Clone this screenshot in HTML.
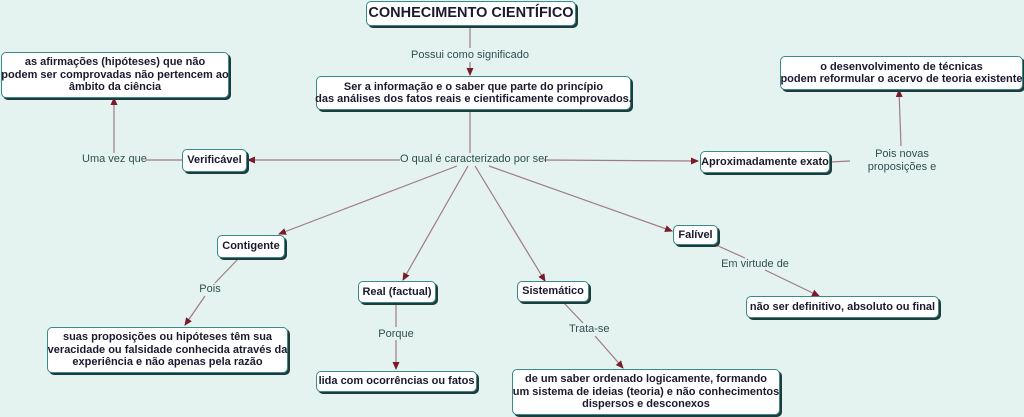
<!DOCTYPE html>
<html><head><meta charset="utf-8"><style>
body{margin:0;width:1024px;height:417px;background:#e4f3f0;position:relative;overflow:hidden;font-family:"Liberation Sans",Arial,sans-serif;}
.n{position:absolute;box-sizing:border-box;background:#fff;border:1.5px solid #3a8a8a;border-radius:5px;box-shadow:2px 2px 0 #1f3b3b;font-weight:bold;color:#1a1a2e;font-size:11px;line-height:12.5px;text-align:center;display:flex;align-items:center;justify-content:center;white-space:nowrap;}
.l{position:absolute;font-size:11px;color:#2f4f4f;text-align:center;line-height:12.5px;white-space:nowrap;}
svg{position:absolute;left:0;top:0}
</style></head><body>
<svg width="1024" height="417">
<defs><marker id="a" markerWidth="8" markerHeight="8" refX="7" refY="4" orient="auto" markerUnits="userSpaceOnUse"><path d="M0,0.5 L8,4 L0,7.5 Z" fill="#7a1a2a"/></marker></defs>
<g stroke="#a07a84" stroke-width="1.2" fill="none">
<line x1="470" y1="27" x2="470" y2="48"/>
<line x1="470" y1="62" x2="470" y2="75" marker-end="url(#a)"/>
<line x1="470" y1="110" x2="470" y2="153"/>
<line x1="400" y1="160" x2="248" y2="160" marker-end="url(#a)"/>
<line x1="544" y1="160" x2="698" y2="161" marker-end="url(#a)"/>
<line x1="457" y1="166" x2="279" y2="234" marker-end="url(#a)"/>
<line x1="468" y1="166" x2="403" y2="280" marker-end="url(#a)"/>
<line x1="475" y1="166" x2="545" y2="281" marker-end="url(#a)"/>
<line x1="489" y1="166" x2="672" y2="231" marker-end="url(#a)"/>
<line x1="182" y1="160" x2="146" y2="160"/>
<line x1="114" y1="153" x2="114" y2="98" marker-end="url(#a)"/>
<line x1="830" y1="162" x2="850" y2="161"/>
<line x1="901" y1="146" x2="899" y2="90" marker-end="url(#a)"/>
<line x1="239" y1="258" x2="215" y2="283"/>
<line x1="205" y1="296" x2="185" y2="325" marker-end="url(#a)"/>
<line x1="396" y1="303" x2="396" y2="327"/>
<line x1="396" y1="340" x2="396" y2="369" marker-end="url(#a)"/>
<line x1="563" y1="302" x2="583" y2="323"/>
<line x1="595" y1="336" x2="623" y2="368" marker-end="url(#a)"/>
<line x1="716" y1="245" x2="745" y2="258"/>
<line x1="765" y1="270" x2="819" y2="296" marker-end="url(#a)"/>
</g></svg>
<div class="n" style="left:366px;top:1px;width:210px;height:25px;font-size:14.5px;">CONHECIMENTO CIENTÍFICO</div>
<div class="l" style="left:405px;top:49px;width:130px;">Possui como significado</div>
<div class="n" style="left:316px;top:76px;width:315px;height:34px;">Ser a informação e o saber que parte do princípio<br>das análises dos fatos reais e cientificamente comprovados.</div>
<div class="n" style="left:1px;top:52px;width:228px;height:46px;">as afirmações (hipóteses) que não<br>podem ser comprovadas não pertencem ao<br>âmbito da ciência</div>
<div class="n" style="left:780px;top:56px;width:243px;height:34px;">o desenvolvimento de técnicas<br>podem reformular o acervo de teoria existente</div>
<div class="l" style="left:82px;top:153px;width:64px;">Uma vez que</div>
<div class="n" style="left:182px;top:149px;width:65px;height:23px;">Verificável</div>
<div class="l" style="left:400px;top:153px;width:144px;">O qual é caracterizado por ser</div>
<div class="n" style="left:700px;top:151px;width:130px;height:22px;">Aproximadamente exato</div>
<div class="l" style="left:850px;top:148px;width:104px;">Pois novas<br>proposições e</div>
<div class="n" style="left:217px;top:235px;width:68px;height:23px;">Contigente</div>
<div class="l" style="left:195px;top:283px;width:30px;">Pois</div>
<div class="n" style="left:47px;top:327px;width:241px;height:46px;">suas proposições ou hipóteses têm sua<br>veracidade ou falsidade conhecida através da<br>experiência e não apenas pela razão</div>
<div class="n" style="left:358px;top:281px;width:78px;height:22px;">Real (factual)</div>
<div class="l" style="left:376px;top:328px;width:40px;">Porque</div>
<div class="n" style="left:316px;top:371px;width:161px;height:21px;">lida com ocorrências ou fatos</div>
<div class="n" style="left:517px;top:281px;width:72px;height:21px;">Sistemático</div>
<div class="l" style="left:569px;top:323px;width:40px;">Trata-se</div>
<div class="n" style="left:512px;top:369px;width:268px;height:46px;">de um saber ordenado logicamente, formando<br>um sistema de ideias (teoria) e não conhecimentos<br>dispersos e desconexos</div>
<div class="n" style="left:673px;top:225px;width:45px;height:20px;">Falível</div>
<div class="l" style="left:720px;top:258px;width:70px;">Em virtude de</div>
<div class="n" style="left:746px;top:296px;width:193px;height:22px;">não ser definitivo, absoluto ou final</div>
</body></html>
